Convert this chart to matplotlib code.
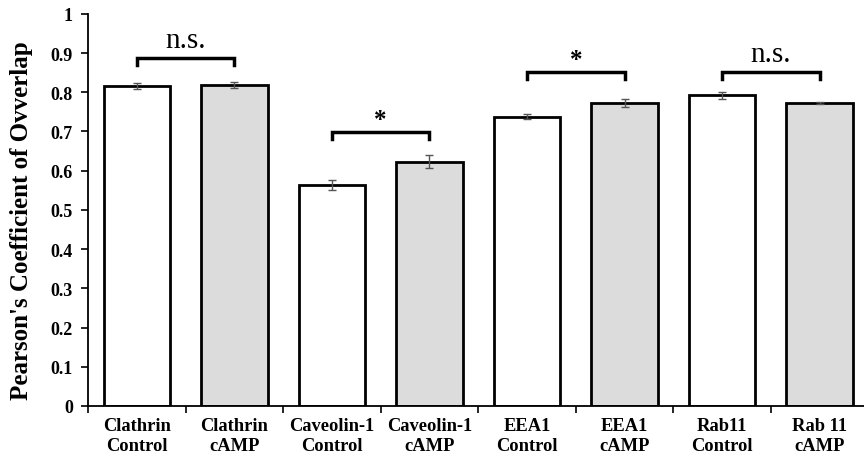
import matplotlib.pyplot as plt
import numpy as np

labels = ['Clathrin\nControl', 'Clathrin\ncAMP', 'Caveolin-1\nControl', 'Caveolin-1\ncAMP',
          'EEA1\nControl', 'EEA1\ncAMP', 'Rab11\nControl', 'Rab 11\ncAMP']
values = [0.816, 0.819, 0.563, 0.623, 0.738, 0.773, 0.792, 0.772]
errors = [0.008, 0.007, 0.012, 0.016, 0.006, 0.011, 0.009, 0.003]
colors = ['white', '#dcdcdc'] * 4

# brackets: (left bar, right bar, height, label)
brackets = [(0, 1, 0.888, 'n.s.'), (2, 3, 0.699, '*'), (4, 5, 0.852, '*'), (6, 7, 0.852, 'n.s.')]

plt.rcParams['font.family'] = ['Liberation Serif', 'DejaVu Serif']

fig = plt.figure(figsize=(8.64, 4.64), dpi=100)
ax = fig.add_axes([0.102, 0.123, 0.903, 0.845])

x = np.arange(len(values))
ax.bar(x, values, width=0.68, color=colors, edgecolor='black', linewidth=2, zorder=2)
ax.errorbar(x, values, yerr=errors, fmt='none', ecolor='#555555', elinewidth=1,
            capsize=3, capthick=1, zorder=3)

for a, b, h, txt in brackets:
    ax.plot([a, a, b, b], [h - 0.018, h, h, h - 0.018], color='black', lw=2.5,
            solid_joinstyle='miter', zorder=3)
    if txt == '*':
        ax.text((a + b) / 2, h + 0.003, txt, ha='center', va='bottom', fontsize=18,
                fontweight='bold')
    else:
        ax.text((a + b) / 2, h + 0.012, txt, ha='center', va='bottom', fontsize=21)

ax.set_xlim(-0.5, 7.5)
ax.set_ylim(0, 1)
ax.set_yticks(np.arange(0, 1.01, 0.1))
ax.set_yticklabels(['0', '0.1', '0.2', '0.3', '0.4', '0.5', '0.6', '0.7', '0.8', '0.9', '1'],
                   fontweight='bold', fontsize=13)
ax.set_xticks(x)
ax.set_xticklabels(labels, fontweight='bold', fontsize=13.3, linespacing=1.25)
ax.tick_params(axis='x', which='major', length=0, pad=8)
ax.set_xticks(np.arange(-0.5, 8, 1), minor=True)
ax.tick_params(axis='x', which='minor', length=5, width=1.2, direction='out')
ax.tick_params(axis='y', length=5, width=1.2, direction='out', pad=6)

ax.spines['top'].set_visible(False)
ax.spines['right'].set_visible(False)
ax.spines['left'].set_linewidth(1.3)
ax.spines['bottom'].set_linewidth(1.3)

ax.set_ylabel("Pearson's Coefficient of Ovverlap", fontweight='bold', fontsize=18)
ax.yaxis.set_label_coords(-0.071, 0.475)

plt.savefig('out.png', dpi=100)
plt.close()
